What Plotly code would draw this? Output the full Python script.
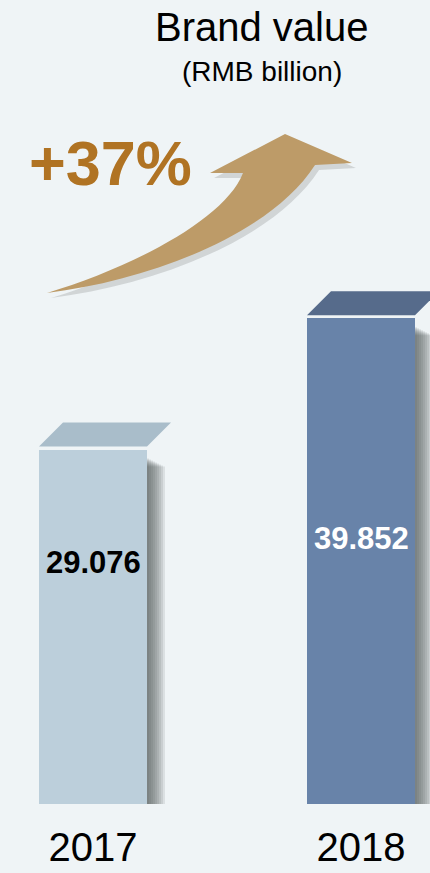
import plotly.graph_objects as go

# ---- data ----
years = ["2017", "2018"]
values = [29.076, 39.852]
value_labels = ["29.076", "39.852"]
growth_label = "+37%"
title_text = "Brand value"
subtitle_text = "(RMB billion)"

# ---- styles ----
front_colors = ["#bccfdb", "#6883a9"]
top_colors = ["#a9bdca", "#566b8b"]
label_colors = ["#000000", "#ffffff"]
label_height_px = [242, 266]  # label centre above the base line
FONT = "Liberation Sans, Arial, sans-serif"
BG = "#eff4f6"

W, H = 430, 873
M_B = 69
PLOT_H = H - M_B
PX_PER_UNIT = 12.19
Y_MAX = PLOT_H / PX_PER_UNIT
PX_PER_X = 268.0
X0_PX = 93.0
x_pos = list(range(len(years)))
bar_w = 108 / PX_PER_X

fig = go.Figure()
fig.add_trace(go.Bar(
    x=x_pos, y=values, width=bar_w,
    marker=dict(color=front_colors, line=dict(width=0)),
    hoverinfo="skip", showlegend=False,
))

shapes = []
# bar shadows (soft, layered)
for i, v in enumerate(values):
    xr = x_pos[i] + bar_w / 2
    for wpx in [2, 4, 6, 8, 10, 12, 14, 16, 18]:
        shapes.append(dict(
            type="rect", xref="x", yref="y", layer="below",
            x0=xr, x1=xr + wpx / PX_PER_X,
            y0=-(wpx * 0.25) / PX_PER_UNIT, y1=v - (8 + wpx * 0.5) / PX_PER_UNIT,
            fillcolor="#4a4f55", opacity=0.12, line=dict(width=0),
        ))
# 3D tops
gap = 3 / PX_PER_UNIT
depth = 24 / PX_PER_UNIT
skew = 24 / PX_PER_X
for i, v in enumerate(values):
    xl = x_pos[i] - bar_w / 2
    xr = x_pos[i] + bar_w / 2
    yb = v + gap
    yt = yb + depth
    path = (f"M {xl},{yb} L {xr},{yb} L {xr + skew},{yt} "
            f"L {xl + skew},{yt} Z")
    shapes.append(dict(type="path", xref="x", yref="y", path=path,
                       fillcolor=top_colors[i], line=dict(width=0)))


# curved growth arrow (decoration, in paper coordinates)
def P(px, py):
    return f"{px / W:.4f},{(PLOT_H - py) / PLOT_H:.4f}"


def arrow_path(dx=0, dy=0):
    pts = lambda x, y: P(x + dx, y + dy)
    return (f"M {pts(47, 293)} C {pts(150, 280)} {pts(270, 235)} {pts(315, 165)} "
            f"L {pts(352, 163)} L {pts(285, 134)} L {pts(210, 173)} L {pts(243, 173)} "
            f"C {pts(225, 220)} {pts(130, 268)} {pts(47, 293)} Z")


shapes.append(dict(type="path", xref="paper", yref="paper", path=arrow_path(4, 5),
                   fillcolor="rgba(70,70,70,0.18)", line=dict(width=0)))
shapes.append(dict(type="path", xref="paper", yref="paper", path=arrow_path(),
                   fillcolor="#bd9b68", line=dict(width=0)))

annotations = []
for i, v in enumerate(values):
    annotations.append(dict(
        x=x_pos[i], y=0, xref="x", yref="y", yshift=label_height_px[i],
        text=f"<b>{value_labels[i]}</b>", showarrow=False,
        font=dict(family=FONT, size=31, color=label_colors[i]),
        xanchor="center", yanchor="middle",
    ))


def ypaper(py):
    return (PLOT_H - py) / PLOT_H


annotations += [
    dict(x=261 / W, y=ypaper(27), xref="paper", yref="paper", text=title_text,
         showarrow=False, xanchor="center", yanchor="middle",
         font=dict(family=FONT, size=40, color="#000000")),
    dict(x=262 / W, y=ypaper(71), xref="paper", yref="paper", text=subtitle_text,
         showarrow=False, xanchor="center", yanchor="middle",
         font=dict(family=FONT, size=28, color="#000000")),
    dict(x=110 / W, y=ypaper(163), xref="paper", yref="paper",
         text=f"<b>{growth_label}</b>",
         showarrow=False, xanchor="center", yanchor="middle",
         font=dict(family=FONT, size=63, color="#b07323")),
]

fig.update_layout(
    width=W, height=H,
    margin=dict(l=0, r=0, t=0, b=M_B, pad=0, autoexpand=False),
    paper_bgcolor=BG, plot_bgcolor=BG,
    shapes=shapes, annotations=annotations,
    bargap=0,
    xaxis=dict(range=[-X0_PX / PX_PER_X, (W - X0_PX) / PX_PER_X],
               tickvals=x_pos, ticktext=years, showgrid=False, zeroline=False,
               showline=False, ticks="", ticklabelstandoff=16, automargin=False,
               tickfont=dict(family=FONT, size=40, color="#000000"),
               fixedrange=True),
    yaxis=dict(range=[0, Y_MAX], visible=False, fixedrange=True, automargin=False),
)

fig.write_html(
    "out.html",
    config={"displayModeBar": False},
    post_script="document.body.style.margin='0';document.body.style.overflow='hidden';"
                "document.body.style.background='" + BG + "';",
)
